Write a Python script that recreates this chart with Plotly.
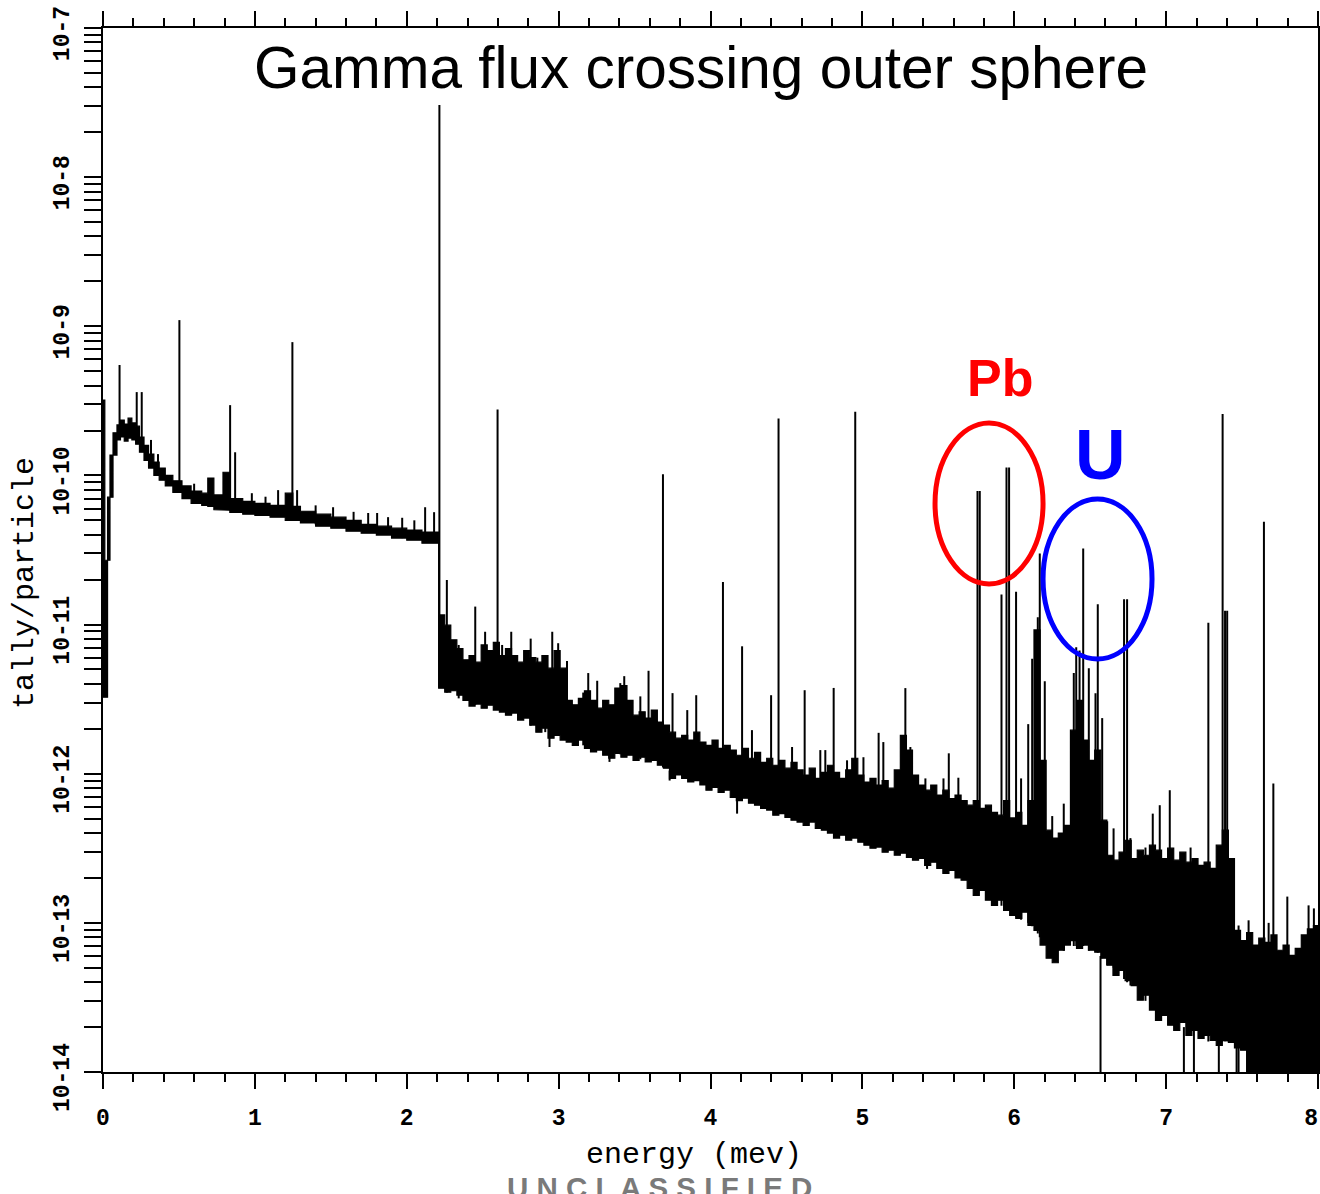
import plotly.graph_objects as go

# ---------------- continuum below the 2.2 MeV edge (irregular bins, MeV) ----------------
low_edges = [0.000, 0.012, 0.030, 0.046, 0.066, 0.092, 0.115, 0.140, 0.165, 0.190,
             0.215, 0.240, 0.270, 0.300, 0.335, 0.370, 0.410, 0.460, 0.520, 0.580,
             0.650, 0.690, 0.730, 0.790, 0.835, 0.920, 1.000, 1.100, 1.200, 1.250,
             1.300, 1.400, 1.500, 1.600, 1.700, 1.800, 1.900, 2.000, 2.100, 2.210]
# upper / lower envelope of the statistical scatter inside each bin (tally/particle)
low_hi = [3.2e-10, 2.7e-11, 7.15e-11, 1.37e-10, 1.93e-10, 2.18e-10, 2.35e-10, 2.21e-10, 2.42e-10, 2.25e-10,
          2.14e-10, 1.81e-10, 1.59e-10, 1.39e-10, 1.23e-10, 1.12e-10, 1.0e-10, 9.2e-11, 8.5e-11, 7.85e-11,
          7.6e-11, 9.6e-11, 7.4e-11, 1.05e-10, 7.0e-11, 6.7e-11, 6.5e-11, 6.3e-11, 7.6e-11, 6.2e-11,
          5.75e-11, 5.5e-11, 5.25e-11, 5.0e-11, 4.7e-11, 4.57e-11, 4.43e-11, 4.3e-11, 4.17e-11]
low_lo = [3.26e-12, 3.26e-12, 2.7e-11, 7.15e-11, 1.37e-10, 1.73e-10, 1.81e-10, 1.70e-10, 1.78e-10, 1.73e-10,
          1.62e-10, 1.43e-10, 1.26e-10, 1.12e-10, 1.0e-10, 9.3e-11, 8.5e-11, 7.7e-11, 7.0e-11, 6.5e-11,
          6.3e-11, 6.2e-11, 5.9e-11, 5.85e-11, 5.65e-11, 5.5e-11, 5.4e-11, 5.25e-11, 5.0e-11, 5.0e-11,
          4.8e-11, 4.57e-11, 4.43e-11, 4.23e-11, 4.1e-11, 3.98e-11, 3.8e-11, 3.68e-11, 3.51e-11]

# ---------------- continuum above the edge: 0.04 MeV bins starting at 2.21 MeV ----------------
high_start = 2.21
high_width = 0.04
high_hi = [1.16e-11, 9.9e-12, 7.9e-12, 6.9e-12, 5.8e-12, 6.2e-12, 5.6e-12, 7.3e-12, 6.7e-12, 7.6e-12,
           6.2e-12, 6.9e-12, 6.2e-12, 5.6e-12, 6.7e-12, 6.0e-12, 5.6e-12, 6.2e-12, 5.1e-12, 6.7e-12,
           5.1e-12, 3.1e-12, 2.9e-12, 3.2e-12, 3.6e-12, 3.1e-12, 2.75e-12, 3.1e-12, 2.9e-12, 3.75e-12,
           3.9e-12, 3.1e-12, 2.47e-12, 2.6e-12, 2.36e-12, 2.67e-12, 2.22e-12, 2.12e-12, 1.90e-12, 1.73e-12,
           1.81e-12, 1.68e-12, 1.90e-12, 1.63e-12, 1.55e-12, 1.68e-12, 1.48e-12, 1.55e-12, 1.44e-12, 1.33e-12,
           1.48e-12, 1.27e-12, 1.39e-12, 1.19e-12, 1.27e-12, 1.14e-12, 1.23e-12, 1.09e-12, 1.19e-12, 1.06e-12,
           9.8e-13, 1.09e-12, 9.3e-13, 1.02e-12, 1.14e-12, 1.02e-12, 9.3e-13, 1.06e-12, 1.27e-12, 9.8e-13,
           8.8e-13, 9.3e-13, 8.4e-13, 9.0e-13, 8.0e-13, 1.06e-12, 1.81e-12, 1.44e-12, 9.8e-13, 8.4e-13,
           7.75e-13, 8.4e-13, 7.2e-13, 7.75e-13, 6.8e-13, 7.2e-13, 6.6e-13, 6.15e-13, 6.6e-13, 5.85e-13,
           6.15e-13, 5.5e-13, 5.27e-13, 6.6e-13, 5.05e-13, 5.5e-13, 4.5e-13, 6.6e-13, 9.2e-12, 1.23e-12,
           4.18e-13, 3.7e-13, 4.0e-13, 4.5e-13, 1.96e-12, 3.1e-12, 1.68e-12, 1.23e-12, 1.44e-12, 4.88e-13,
           2.84e-13, 2.63e-13, 2.98e-13, 3.58e-13, 2.7e-13, 3.07e-13, 2.84e-13, 3.32e-13, 3.07e-13, 2.7e-13,
           3.17e-13, 2.63e-13, 2.98e-13, 2.55e-13, 2.7e-13, 2.43e-13, 2.55e-13, 2.32e-13, 3.32e-13, 4.18e-13,
           2.7e-13, 8.9e-14, 7.6e-14, 8.6e-14, 7.1e-14, 7.9e-14, 7.4e-14, 8.3e-14, 6.55e-14, 7.1e-14,
           6.05e-14, 6.75e-14, 8.3e-14, 9.1e-14, 9.6e-14]
high_lo = [3.74e-12, 3.52e-12, 3.6e-12, 3.36e-12, 3.1e-12, 2.84e-12, 2.93e-12, 2.75e-12, 2.88e-12, 2.67e-12,
           2.59e-12, 2.47e-12, 2.55e-12, 2.29e-12, 2.36e-12, 2.12e-12, 1.90e-12, 2.02e-12, 1.73e-12, 1.81e-12,
           1.68e-12, 1.63e-12, 1.55e-12, 1.68e-12, 1.48e-12, 1.40e-12, 1.44e-12, 1.33e-12, 1.27e-12, 1.37e-12,
           1.29e-12, 1.33e-12, 1.23e-12, 1.29e-12, 1.20e-12, 1.23e-12, 1.14e-12, 1.09e-12, 9.3e-13, 9.8e-13,
           9.3e-13, 8.8e-13, 9.0e-13, 8.4e-13, 7.75e-13, 8.1e-13, 7.5e-13, 7.75e-13, 6.95e-13, 6.6e-13,
           6.85e-13, 6.35e-13, 6.15e-13, 5.85e-13, 5.7e-13, 5.27e-13, 5.4e-13, 5.1e-13, 4.88e-13, 4.74e-13,
           4.51e-13, 4.74e-13, 4.3e-13, 4.18e-13, 4.0e-13, 3.7e-13, 3.87e-13, 3.58e-13, 3.7e-13, 3.47e-13,
           3.32e-13, 3.17e-13, 3.22e-13, 2.98e-13, 3.07e-13, 2.84e-13, 2.93e-13, 2.75e-13, 2.63e-13, 2.7e-13,
           2.43e-13, 2.55e-13, 2.32e-13, 2.15e-13, 2.25e-13, 2.0e-13, 1.93e-13, 1.7e-13, 1.53e-13, 1.65e-13,
           1.42e-13, 1.31e-13, 1.42e-13, 1.21e-13, 1.12e-13, 1.07e-13, 1.18e-13, 9.6e-14, 8.9e-14, 7.1e-14,
           5.8e-14, 5.4e-14, 6.55e-14, 7.1e-14, 7.6e-14, 6.75e-14, 7.1e-14, 6.55e-14, 6.35e-14, 5.8e-14,
           5.2e-14, 4.45e-14, 4.8e-14, 4.1e-14, 3.8e-14, 3.03e-14, 3.27e-14, 2.6e-14, 2.22e-14, 2.4e-14,
           2.06e-14, 1.9e-14, 2.15e-14, 1.76e-14, 1.9e-14, 1.68e-14, 1.76e-14, 1.63e-14, 1.51e-14, 1.63e-14,
           1.58e-14, 1.45e-14, 1.40e-14, 8e-15, 8e-15, 8e-15, 8e-15, 8e-15, 8e-15, 8e-15,
           8e-15, 8e-15, 8e-15, 8e-15, 8e-15]

# ---------------- narrow lines: energy (MeV), bottom and top of each line ----------------
line_e = [0.109, 0.222, 0.255, 0.316, 0.362, 0.503, 0.600, 0.837, 0.870, 0.980,
          1.070, 1.153, 1.247, 1.278, 1.400, 1.515, 1.650, 1.746, 1.805, 1.877,
          1.970, 2.050, 2.121, 2.180, 2.215,
          2.264, 2.342, 2.451, 2.516, 2.598, 2.628, 2.688, 2.816, 2.860, 2.912,
          2.940, 2.958, 2.997, 3.055, 3.162, 3.195, 3.254, 3.335, 3.406, 3.432,
          3.538, 3.592, 3.687, 3.731, 3.750, 3.847, 3.906, 4.082, 4.175, 4.208,
          4.273, 4.399, 4.448, 4.537, 4.620, 4.723, 4.756, 4.811, 4.899, 4.953,
          5.007, 5.107, 5.138, 5.283, 5.316, 5.415, 5.426, 5.534, 5.569, 5.632,
          5.758, 5.773, 5.863, 5.916, 5.949, 5.966, 6.012, 6.045, 6.092, 6.118,
          6.138, 6.155, 6.168, 6.201, 6.250, 6.326, 6.392, 6.408, 6.430, 6.454,
          6.491, 6.535, 6.550, 6.568, 6.579, 6.612, 6.654, 6.723, 6.743, 6.765,
          6.864, 6.912, 6.958, 7.024, 7.117, 7.161, 7.183, 7.278, 7.347, 7.372,
          7.388, 7.402, 7.464, 7.477, 7.543, 7.644, 7.675, 7.706, 7.798, 7.938,
          7.973]
line_lo = [2.0e-10, 1.9e-10, 1.6e-10, 1.25e-10, 1.1e-10, 8.0e-11, 6.6e-11, 6.0e-11, 6.0e-11, 5.6e-11,
           5.5e-11, 5.4e-11, 5.2e-11, 5.2e-11, 4.7e-11, 4.6e-11, 4.3e-11, 4.2e-11, 4.1e-11, 4.0e-11,
           3.8e-11, 3.7e-11, 3.7e-11, 3.6e-11, 3.8e-12,
           3.5e-12, 3.2e-12, 2.9e-12, 2.8e-12, 2.7e-12, 2.6e-12, 2.5e-12, 2.1e-12, 2.0e-12, 1.9e-12,
           1.51e-12, 1.8e-12, 1.8e-12, 1.7e-12, 1.55e-12, 1.5e-12, 1.45e-12, 1.2e-12, 1.35e-12, 1.3e-12,
           1.25e-12, 1.2e-12, 1.1e-12, 9.0e-13, 1.0e-12, 9.5e-13, 9.0e-13, 8.0e-13, 5.4e-13, 7.0e-13,
           6.8e-13, 6.0e-13, 6.0e-13, 5.5e-13, 5.0e-13, 4.6e-13, 4.5e-13, 4.2e-13, 4.0e-13, 3.8e-13,
           3.6e-13, 3.3e-13, 3.2e-13, 3.0e-13, 2.9e-13, 2.6e-13, 2.3e-13, 2.3e-13, 2.3e-13, 2.1e-13,
           1.7e-13, 1.7e-13, 1.5e-13, 1.3e-13, 1.2e-13, 1.2e-13, 1.1e-13, 1.05e-13, 1.0e-13, 9.5e-14,
           9.0e-14, 8.5e-14, 8.0e-14, 7.5e-14, 6.0e-14, 6.5e-14, 7.0e-14, 7.0e-14, 7.0e-14, 7.0e-14,
           6.5e-14, 6.5e-14, 6.3e-14, 5e-15, 5.8e-14, 5.2e-14, 5.0e-14, 4.2e-14, 4.0e-14, 3.8e-14,
           3.0e-14, 2.8e-14, 2.5e-14, 2.2e-14, 5e-15, 1.8e-14, 5e-15, 1.6e-14, 5e-15, 1.6e-14,
           1.6e-14, 1.6e-14, 5e-15, 1.0e-14, 5e-15, 1.0e-14, 1.0e-14, 1.0e-14, 1.0e-14, 1.0e-14,
           1.0e-14]
line_hi = [5.5e-10, 3.62e-10, 3.62e-10, 1.73e-10, 1.39e-10, 1.10e-9, 8.8e-11, 2.96e-10, 1.43e-10, 7.6e-11,
           7.2e-11, 7.97e-11, 7.83e-10, 7.97e-11, 6.3e-11, 6.12e-11, 5.7e-11, 5.6e-11, 5.6e-11, 5.25e-11,
           5.2e-11, 5.0e-11, 6.12e-11, 5.67e-11, 3.05e-8,
           1.99e-11, 7.3e-12, 1.32e-11, 8.95e-12, 2.77e-10, 7.3e-12, 8.95e-12, 8.05e-12, 6.0e-12, 6.1e-12,
           1.8e-12, 8.95e-12, 7.5e-12, 5.7e-12, 3.5e-12, 4.73e-12, 4.2e-12, 1.4e-12, 4.05e-12, 4.51e-12,
           3.3e-12, 4.9e-12, 1.02e-10, 1.05e-12, 3.47e-12, 2.67e-12, 3.36e-12, 1.93e-11, 7.0e-13, 7.15e-12,
           1.96e-12, 3.36e-12, 2.41e-10, 1.51e-12, 3.63e-12, 1.44e-12, 1.44e-12, 3.76e-12, 1.23e-12, 2.67e-10,
           1.29e-12, 1.88e-12, 1.63e-12, 3.75e-12, 1.51e-12, 9.3e-13, 2.6e-13, 9.3e-13, 1.37e-12, 9.4e-13,
           7.85e-11, 7.85e-11, 5.4e-13, 1.59e-11, 1.13e-10, 1.13e-10, 1.66e-11, 9.3e-13, 2.15e-12, 5.9e-12,
           7.6e-12, 1.12e-11, 3.0e-11, 4.17e-12, 5.2e-13, 6.3e-13, 4.73e-12, 7.05e-12, 6.7e-12, 3.24e-11,
           5.1e-12, 3.47e-12, 1.37e-11, 6.0e-14, 2.36e-12, 4.8e-13, 4.3e-13, 1.48e-11, 1.48e-11, 3.7e-13,
           3.2e-13, 5.4e-13, 6.15e-13, 7.75e-13, 2.0e-14, 3.2e-13, 2.0e-14, 1.03e-11, 1.6e-14, 2.58e-10,
           1.24e-11, 1.24e-11, 1.5e-14, 9.6e-14, 1.04e-13, 4.89e-11, 1.0e-13, 8.6e-13, 1.5e-13, 1.31e-13,
           1.25e-13]

# ---------------- axis ticks ----------------
x_ticks = [0, 1, 2, 3, 4, 5, 6, 7, 8]
# the last label carries a trailing no-break space so it sits just inside the frame
x_labels = ["0", "1", "2", "3", "4", "5", "6", "7", "8\u00a0"]
y_ticks = [1e-14, 1e-13, 1e-12, 1e-11, 1e-10, 1e-9, 1e-8, 1e-7]
y_labels = ["10-14", "10-13", "10-12", "10-11", "10-10", "10-9", "10-8", "10-7"]

# ---------------- build the histogram band as a closed step polygon ----------------
edges = low_edges + [round(high_start + high_width * (k + 1), 2) for k in range(len(high_hi))]
band_hi = low_hi + high_hi
band_lo = low_lo + high_lo
poly_x, poly_y = [], []
for i in range(len(band_hi)):
    poly_x += [edges[i], edges[i + 1]]
    poly_y += [band_hi[i], band_hi[i]]
for i in reversed(range(len(band_lo))):
    poly_x += [edges[i + 1], edges[i]]
    poly_y += [band_lo[i], band_lo[i]]
poly_x.append(poly_x[0])
poly_y.append(poly_y[0])

seg_x, seg_y = [], []
for e, lo, hi in zip(line_e, line_lo, line_hi):
    seg_x += [e, e, None]
    seg_y += [lo, hi, None]

fig = go.Figure()
fig.add_trace(go.Scatter(x=poly_x, y=poly_y, mode="lines", fill="toself",
                         fillcolor="black", line=dict(color="black", width=1.2),
                         hoverinfo="skip"))
fig.add_trace(go.Scatter(x=seg_x, y=seg_y, mode="lines",
                         line=dict(color="black", width=2), hoverinfo="skip"))

mono = "Liberation Mono, Courier New, monospace"
tickfont = dict(family=mono, size=23, color="black", weight="bold")

x_minor = [k * 0.2 for k in range(41) if k % 5]
y_minor = [m * 10.0 ** p for p in range(-14, -7) for m in range(2, 10)]

fig.update_xaxes(range=[0, 8], tickmode="array", tickvals=x_ticks, ticktext=x_labels,
                 ticks="outside", ticklen=15, tickwidth=2, tickcolor="black",
                 showline=True, linewidth=2, linecolor="black", mirror="ticks",
                 showgrid=False, zeroline=False, tickfont=tickfont, ticklabelstandoff=8,
                 automargin=False, ticklabeloverflow="allow",
                 minor=dict(ticks="outside", ticklen=8, tickwidth=2, tickcolor="black",
                            tickvals=x_minor, showgrid=False))
fig.update_yaxes(type="log", range=[-14, -7], tickmode="array", tickvals=y_ticks,
                 ticktext=y_labels, tickangle=-90,
                 ticks="outside", ticklen=17, tickwidth=2, tickcolor="black",
                 showline=True, linewidth=2, linecolor="black", mirror="ticks",
                 showgrid=False, zeroline=False, tickfont=tickfont, ticklabelshift=9,
                 ticklabelstandoff=6, automargin=False, ticklabeloverflow="allow",
                 minor=dict(ticks="outside", ticklen=17, tickwidth=2, tickcolor="black",
                            tickvals=y_minor, showgrid=False))

sans = "Liberation Sans, Arial, sans-serif"
fig.update_layout(
    width=1320, height=1194,
    margin=dict(l=103, r=2, t=28, b=122, autoexpand=False),
    paper_bgcolor="white", plot_bgcolor="white",
    showlegend=False,
    annotations=[
        dict(text="Gamma flux crossing outer sphere", xref="paper", yref="paper",
             x=0.4922, y=0.9617, xanchor="center", yanchor="middle", showarrow=False,
             font=dict(family=sans, size=58.5, color="black")),
        dict(text="<b>Pb</b>", xref="paper", yref="paper", x=0.7383, y=0.6648,
             xanchor="center", yanchor="middle", showarrow=False,
             font=dict(family=sans, size=52, color="#ff0000")),
        dict(text="<b>U</b>", xref="paper", yref="paper", x=0.8206, y=0.5910,
             xanchor="center", yanchor="middle", showarrow=False,
             font=dict(family=sans, size=70, color="#0000ff")),
        dict(text="tally/particle", xref="paper", yref="paper", x=-0.0642, y=0.4684,
             xanchor="center", yanchor="middle", textangle=-90, showarrow=False,
             font=dict(family=mono, size=30, color="black")),
        dict(text="energy (mev)", xref="paper", yref="paper", x=0.4864, y=-0.0795,
             xanchor="center", yanchor="middle", showarrow=False,
             font=dict(family=mono, size=30, color="black")),
        dict(text="<b>U N C L A S S I F I E D</b>",
             xref="paper", yref="paper",
             x=0.4584, y=-0.0925, xanchor="center", yanchor="top", showarrow=False,
             font=dict(family=sans, size=29.5, color="#7a7a7a")),
    ],
    shapes=[
        dict(type="circle", xref="paper", yref="paper", x0=0.6848, x1=0.7737,
             y0=0.4674, y1=0.6216, line=dict(color="#ff0000", width=5)),
        dict(type="circle", xref="paper", yref="paper", x0=0.7737, x1=0.8634,
             y0=0.3956, y1=0.5489, line=dict(color="#0000ff", width=5)),
    ],
)

fig.write_html("out.html")
